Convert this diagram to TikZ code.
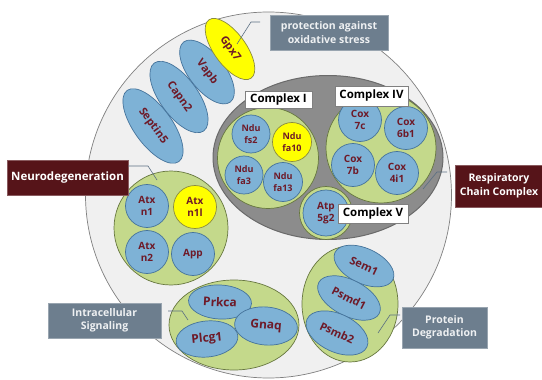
\documentclass[tikz,border=0pt]{standalone}
\usepackage{fontspec}
\setmainfont{Open Sans}
\usetikzlibrary{shapes.geometric}
\definecolor{bigbg}{HTML}{F0F0F0}
\definecolor{bigedge}{HTML}{808080}
\definecolor{bluefill}{HTML}{7EB2D6}
\definecolor{blueedge}{HTML}{45739B}
\definecolor{yelfill}{HTML}{FFFF00}
\definecolor{yeledge}{HTML}{8A8A40}
\definecolor{grnfill}{HTML}{C4D98B}
\definecolor{grnedge}{HTML}{66763F}
\definecolor{grayfill}{HTML}{8C8C8C}
\definecolor{grayedge}{HTML}{6A6A6A}
\definecolor{txtred}{HTML}{6E1A28}
\definecolor{maroon}{HTML}{561419}
\definecolor{slate}{HTML}{6D7E8E}
\definecolor{slatetxt}{HTML}{EEF0F2}
\definecolor{callout}{HTML}{5A6E82}
\begin{document}
\begin{tikzpicture}[x=1pt,y=-1pt,
  prot/.style={ellipse, draw=blueedge, fill=bluefill, line width=0.7pt, inner sep=0pt,
    text=txtred, align=center},
  pcirc/.style={circle, draw=blueedge, fill=bluefill, line width=0.7pt, inner sep=0pt,
    minimum size=#1, text=txtred, align=center},
  fnine/.style={font=\bfseries\fontsize{9}{11.5}\selectfont},
  ften/.style={font=\bfseries\fontsize{10}{12.5}\selectfont},
  feleven/.style={font=\bfseries\fontsize{11}{13}\selectfont},
  ftwelve/.style={font=\bfseries\fontsize{12}{13}\selectfont},
  yel/.style={fill=yelfill, draw=yeledge},
  grp/.style={draw=grnedge, fill=grnfill, line width=0.7pt, inner sep=0pt},
  cxlabel/.style={rectangle, draw=bigedge, fill=white, line width=0.6pt, inner sep=0pt,
    font=\bfseries\fontsize{11.5}{13}\selectfont, text=black},
  darklabel/.style={rectangle, fill=maroon, draw=maroon!70!white, inner sep=0pt,
    text=white, font=\bfseries\fontsize{11.5}{13.5}\selectfont, align=center},
  slatelabel/.style={rectangle, fill=slate, draw=slate!70!white, inner sep=0pt,
    text=slatetxt, font=\bfseries\fontsize{10.5}{13.5}\selectfont, align=center},
  co/.style={draw=callout, line width=0.6pt}
]
\useasboundingbox (0,0) rectangle (542,380);
% cell
\node[circle, draw=bigedge, fill=bigbg, line width=0.7pt, minimum size=366pt, inner sep=0pt] (cell) at (268.5,195) {};

% peripheral proteins
\node[prot, feleven, minimum width=88pt, minimum height=38pt, rotate=-54] (septin) at (153,126) {Septin5};
\node[prot, feleven, minimum width=84pt, minimum height=38pt, rotate=-54] (capn) at (179,97) {Capn2};
\node[prot, feleven, minimum width=76pt, minimum height=36pt, rotate=-52] (vapb) at (207,72) {Vapb};
\node[prot, feleven, yel, minimum width=72pt, minimum height=32pt, rotate=-54] (gpx) at (230,49) {Gpx7};

% respiratory chain
\node[ellipse, draw=grayedge, fill=grayfill, line width=1pt, minimum width=230pt, minimum height=164pt, inner sep=0pt] (rc) at (328,157.5) {};
\node[circle, grp, minimum size=101pt] (c1) at (268,158) {};
\node[circle, grp, minimum size=110pt] (c4) at (381,148) {};
\node[circle, grp, minimum size=53pt] (c5) at (326,213) {};

\node[pcirc=38pt, fnine] (fs2) at (251,134) {Ndu\\fs2};
\node[pcirc=39pt, fnine, yel] (fa10) at (292,142) {Ndu\\fa10};
\node[pcirc=38pt, fnine] (fa3) at (244,175) {Ndu\\fa3};
\node[pcirc=39pt, fnine] (fa13) at (283,182) {Ndu\\fa13};

\node[pcirc=43pt, ften] (cox7c) at (360,120) {Cox\\7c};
\node[pcirc=43pt, ften] (cox6b1) at (406,128) {Cox\\6b1};
\node[pcirc=43pt, ften] (cox7b) at (353,165) {Cox\\7b};
\node[pcirc=43pt, ften] (cox4i1) at (397,173) {Cox\\4i1};
\node[pcirc=46pt, ften] (atp) at (326,213) {Atp\\5g2};

\node[cxlabel, minimum width=67pt, minimum height=17pt] (lc1) at (278.5,99.5) {Complex I};
\node[cxlabel, minimum width=73pt, minimum height=20pt] (lc4) at (371.5,96) {Complex IV};
\node[cxlabel, minimum width=70pt, minimum height=19pt] (lc5) at (373,213.5) {Complex V};

% neurodegeneration group
\node[circle, grp, minimum size=114pt] (neuro) at (171,228) {};
\node[pcirc=43pt, ften] (atxn1) at (147,206) {Atx\\n1};
\node[pcirc=43pt, ften, yel] (atxn1l) at (195,207) {Atx\\n1l};
\node[pcirc=43pt, ften] (atxn2) at (147,252) {Atx\\n2};
\node[pcirc=43pt, ften] (app) at (193,254) {App};

% signaling group
\node[ellipse, grp, minimum width=130pt, minimum height=90pt] (sig) at (234,325) {};
\node[prot, ftwelve, minimum width=63pt, minimum height=34pt, rotate=-3] (prkca) at (220,302) {Prkca};
\node[prot, ftwelve, minimum width=63pt, minimum height=38pt, rotate=-5] (gnaq) at (266,326) {Gnaq};
\node[prot, ftwelve, minimum width=62pt, minimum height=36pt, rotate=6] (plcg) at (207,339) {Plcg1};

% protein degradation group
\node[ellipse, grp, minimum width=96pt, minimum height=116pt] (deg) at (350,304) {};
\node[prot, feleven, minimum width=64pt, minimum height=35pt, rotate=-25] (sem) at (364,266) {Sem1};
\node[prot, feleven, minimum width=68pt, minimum height=36pt, rotate=-27] (psmd) at (349,298) {Psmd1};
\node[prot, feleven, minimum width=66pt, minimum height=38pt, rotate=-25] (psmb) at (337,333) {Psmb2};

% labels
\node[slatelabel, minimum width=118pt, minimum height=35pt] (lprot) at (329,32.5) {protection against\\oxidative stress};
\node[darklabel, minimum width=121pt, minimum height=35pt] (lneuro) at (67.5,177.5) {Neurodegeneration};
\node[darklabel, minimum width=88pt, minimum height=42pt, font=\bfseries\fontsize{10.5}{13.5}\selectfont] (lresp) at (499,186) {Respiratory\\Chain Complex};
\node[slatelabel, minimum width=113pt, minimum height=35pt] (lsig) at (104.5,320.5) {Intracellular\\Signaling};
\node[slatelabel, minimum width=85pt, minimum height=41pt] (ldeg) at (444.5,327.5) {Protein\\Degradation};

% callouts
\coordinate (p1) at (260,22); \coordinate (p2) at (251,22); \coordinate (p3) at (237,44);
\draw[co] (p1) -- (p2) -- (p3);
\coordinate (n1) at (lneuro.east |- 0,166); \coordinate (n2) at (148,166); \coordinate (n3) at (157,180);
\draw[co] (n1) -- (n2) -- (n3);
\coordinate (r1) at (447,172); \coordinate (r2) at (437,172); \coordinate (r3) at (423,189);
\draw[co] (r1) -- (r2) -- (r3);
\coordinate (s1) at (168,311); \coordinate (s2) at (182,311); \coordinate (s3) at (188,320);
\draw[co] (s1) -- (s2) -- (s3);
\coordinate (d1) at (400,315); \coordinate (d2) at (390,315); \coordinate (d3) at (378,333);
\draw[co] (d1) -- (d2) -- (d3);
\end{tikzpicture}
\end{document}
